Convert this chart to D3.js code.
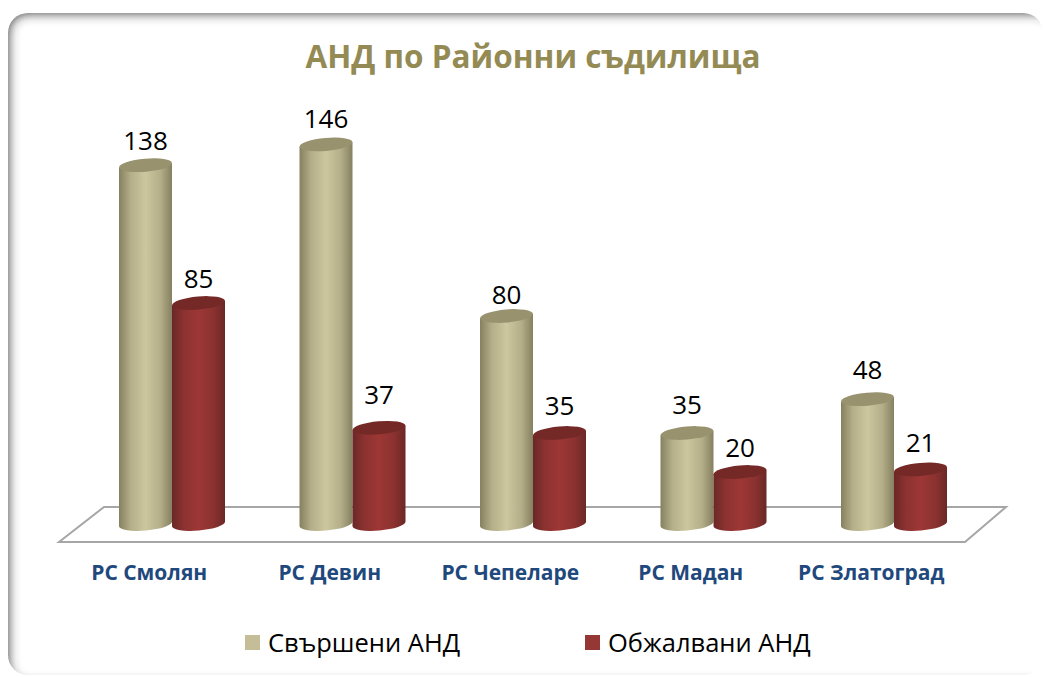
<!DOCTYPE html>
<html lang="bg">
<head>
    <meta charset="UTF-8">
    <title>АНД по Районни съдилища</title>
    <script src="https://d3js.org/d3.v7.min.js"></script>
    <style>
        html, body { margin: 0; padding: 0; background: #fff; }
        svg { display: block; }
        text { font-family: "Open Sans", "Noto Sans", sans-serif; }
    </style>
</head>
<body>
<svg width="1046" height="677"></svg>
<script>
    // Values
    const categories = ["РС Смолян", "РС Девин", "РС Чепеларе", "РС Мадан", "РС Златоград"];
    const seriesNames = ["Свършени АНД", "Обжалвани АНД"];
    const completed = [138, 146, 80, 35, 48];
    const appealed = [85, 37, 35, 20, 21];

    const svg = d3.select("svg");
    const defs = svg.append("defs");

    // Scales
    const x0 = d3.scaleBand().domain(categories).range([81, 983.5]);
    const x1 = d3.scaleBand().domain(seriesNames).range([38, 144]);
    const y = d3.scaleLinear().domain([0, 150]).range([524, 134]);

    // Rounded panel with a soft inner shadow, heavier on top and left
    defs.append("clipPath").attr("id", "panelClip")
        .append("rect").attr("x", 8).attr("y", 13).attr("width", 1035).attr("height", 662).attr("rx", 20);
    defs.append("filter").attr("id", "edgeBlur")
        .attr("x", "-5%").attr("y", "-5%").attr("width", "110%").attr("height", "110%")
        .append("feGaussianBlur").attr("stdDeviation", 6);

    const panel = svg.append("g").attr("clip-path", "url(#panelClip)");
    panel.append("rect")
        .attr("x", 2).attr("y", 7).attr("width", 1062).attr("height", 683).attr("rx", 26)
        .attr("fill", "none").attr("stroke", "#333").attr("stroke-width", 12)
        .attr("filter", "url(#edgeBlur)");

    // Title
    svg.append("text")
        .attr("x", 533).attr("y", 68)
        .attr("text-anchor", "middle")
        .attr("font-size", 31.5).attr("font-weight", 700)
        .attr("fill", "#948a54")
        .text("АНД по Районни съдилища");

    // Floor of the 3D plot
    const floor = d3.line()([[59, 542], [104, 507], [1006, 507], [965, 542]]) + "Z";
    svg.append("path")
        .attr("d", floor)
        .attr("fill", "none")
        .attr("stroke", "#a6a6a6")
        .attr("stroke-width", 2);

    // Cylinder colours
    const colors = [
        {id: "gradTan", edge: "#85805f", mid: "#cdc79f", top: "#98926f", swatch: "#c4bd97"},
        {id: "gradRed", edge: "#6a2827", mid: "#9d3735", top: "#742927", swatch: "#953735"}
    ];
    colors.forEach(function(c) {
        const g = defs.append("linearGradient").attr("id", c.id);
        g.append("stop").attr("offset", "0%").attr("stop-color", c.edge);
        g.append("stop").attr("offset", "22%").attr("stop-color", d3.interpolateRgb(c.edge, c.mid)(0.65));
        g.append("stop").attr("offset", "50%").attr("stop-color", c.mid);
        g.append("stop").attr("offset", "78%").attr("stop-color", d3.interpolateRgb(c.edge, c.mid)(0.65));
        g.append("stop").attr("offset", "100%").attr("stop-color", c.edge);
    });

    const tiltDeg = -5;
    const ry = 6.5;
    const rise = Math.sin(-tiltDeg * Math.PI / 180);
    // value labels don't sit at a constant gap above the cylinders in the original
    const labelShift = [[0, -1, 3, -4, -5], [0, -9, -3, 0, -2]];

    // One group per series so the red cylinders sit over the tan ones
    [completed, appealed].forEach(function(values, s) {
        const c = colors[s];
        const rows = categories.map((name, i) => ({name: name, value: values[i], shift: labelShift[s][i]}));
        const bars = svg.append("g").selectAll("g").data(rows).join("g");
        const rx = x1.bandwidth() / 2;
        const cx = d => x0(d.name) + x1(seriesNames[s]) + rx;
        const dy = rx * rise;

        // Body: sides plus the curved bottom rim
        bars.append("path")
            .attr("fill", "url(#" + c.id + ")")
            .attr("d", function(d) {
                const l = cx(d) - rx, r = cx(d) + rx;
                const top = y(d.value), base = y(0);
                return "M" + l + "," + (top + dy) +
                    "L" + l + "," + (base + dy) +
                    "A" + rx + "," + ry + " " + tiltDeg + " 0 0 " + r + "," + (base - dy) +
                    "L" + r + "," + (top - dy) + "Z";
            });

        // Top of the cylinder
        bars.append("ellipse")
            .attr("rx", rx).attr("ry", ry)
            .attr("transform", d => "translate(" + cx(d) + "," + y(d.value) + ") rotate(" + tiltDeg + ")")
            .attr("fill", c.top);

        // Value label
        bars.append("text")
            .attr("x", cx)
            .attr("y", d => y(d.value) - 15 + d.shift)
            .attr("text-anchor", "middle")
            .attr("font-size", 26)
            .attr("fill", "#000")
            .text(d => d.value);
    });

    // Category labels
    svg.append("g").selectAll("text").data(categories).join("text")
        .attr("x", d => x0(d) + x0.bandwidth() / 2 - 22)
        .attr("y", 580)
        .attr("text-anchor", "middle")
        .attr("font-size", 21).attr("font-weight", 700)
        .attr("fill", "#1f497d")
        .text(d => d);

    // Legend
    const legendX = d3.scaleOrdinal().domain(seriesNames).range([245, 585]);
    const legend = svg.append("g").selectAll("g").data(seriesNames).join("g")
        .attr("transform", d => "translate(" + legendX(d) + ",635)");
    legend.append("rect")
        .attr("width", 15).attr("height", 15)
        .attr("fill", (d, i) => colors[i].swatch);
    legend.append("text")
        .attr("x", 23).attr("y", 17)
        .attr("font-size", 25.5)
        .attr("fill", "#000")
        .text(d => d);
</script>
</body>
</html>
